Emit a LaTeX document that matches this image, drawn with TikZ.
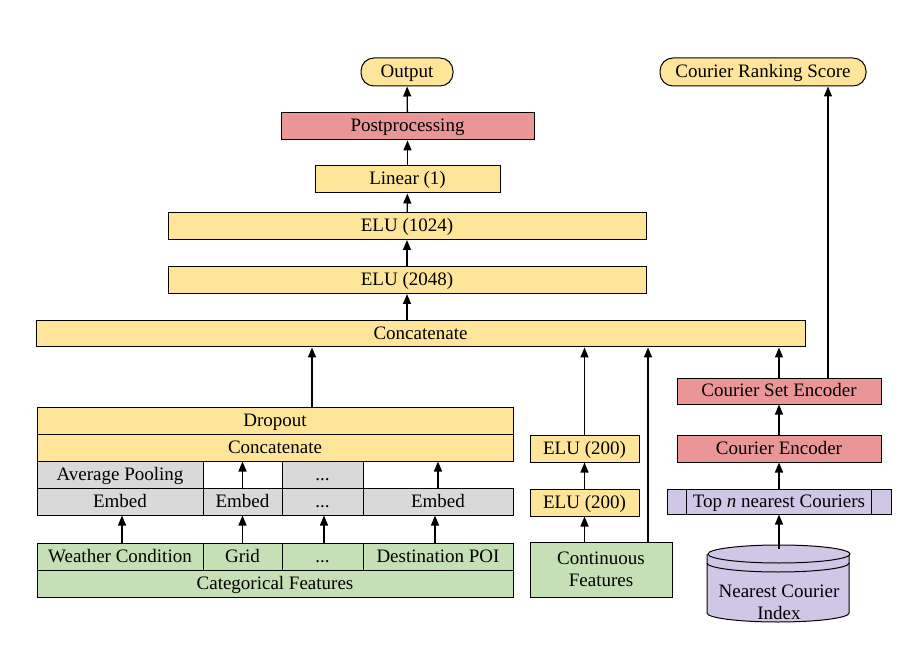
\documentclass[tikz,border=0pt]{standalone}
\usepackage{fontspec}
\setmainfont{Liberation Serif}
\usepackage{tikz}
\usetikzlibrary{arrows.meta,positioning}
\definecolor{layeryellow}{RGB}{255,229,153}
\definecolor{procpink}{RGB}{234,150,150}
\definecolor{embgray}{RGB}{217,217,217}
\definecolor{featgreen}{RGB}{197,224,180}
\definecolor{courpurple}{RGB}{208,198,230}

\begin{document}
\begin{tikzpicture}[x=1pt, y=-1pt,
    box/.style={draw, line width=1pt, inner sep=0pt, minimum height=27pt, align=center,
                text height=14pt, text depth=3pt, font=\fontsize{19}{22}\selectfont},
    twoline/.style={text height=, text depth=},
    pill/.style={box, rounded corners=13pt, minimum height=28pt},
    arrow/.style={-{Triangle[length=10pt, width=8pt]}, line width=1.3pt}
]
\useasboundingbox (0,0) rectangle (924,660);

% outputs
\node[pill, fill=layeryellow, minimum width=92pt] (out) at (407,72) {Output};
\node[pill, fill=layeryellow, minimum width=206pt] (crs) at (763,72) {Courier Ranking Score};

% main tower
\node[box, fill=procpink, minimum width=253pt] (post) at (407.5,126.5) {Postprocessing};
\node[box, fill=layeryellow, minimum width=185pt] (lin) at (407.5,179.5) {Linear (1)};
\node[box, fill=layeryellow, minimum width=478pt] (elu1024) at (407,226) {ELU (1024)};
\node[box, fill=layeryellow, minimum width=478pt] (elu2048) at (407,280) {ELU (2048)};
\node[box, fill=layeryellow, minimum width=769pt, minimum height=26pt] (cat) at (420.5,334) {Concatenate};

% categorical branch
\node[box, fill=layeryellow, minimum width=476pt] (drop) at (275,420.5) {Dropout};
\node[box, fill=layeryellow, minimum width=476pt] (catb) at (275,447.5) {Concatenate};
\node[box, fill=embgray, minimum width=166pt] (avgp) at (120,474.5) {Average Pooling};
\node[box, fill=embgray, minimum width=81pt] (dotsa) at (322.5,474.5) {...};
\node[box, fill=embgray, minimum width=166pt] (embw) at (120,501.5) {Embed};
\node[box, fill=embgray, minimum width=79pt] (embg) at (242.5,501.5) {Embed};
\node[box, fill=embgray, minimum width=81pt] (embd) at (322.5,501.5) {...};
\node[box, fill=embgray, minimum width=150pt] (embp) at (438,501.5) {Embed};
\node[box, fill=featgreen, minimum width=166pt] (wc) at (120,556.5) {Weather Condition};
\node[box, fill=featgreen, minimum width=79pt] (grid) at (242.5,556.5) {Grid};
\node[box, fill=featgreen, minimum width=81pt] (fdots) at (322.5,556.5) {...};
\node[box, fill=featgreen, minimum width=150pt] (dpoi) at (438,556.5) {Destination POI};
\node[box, fill=featgreen, minimum width=476pt] (catf) at (275,583.5) {Categorical Features};

% continuous branch
\node[box, fill=layeryellow, minimum width=109pt] (elua) at (584.5,448.5) {ELU (200)};
\node[box, fill=layeryellow, minimum width=109pt] (elub) at (584.5,502.5) {ELU (200)};
\node[box, twoline, fill=featgreen, minimum width=142pt, minimum height=55pt] (cont) at (601,569.5) {Continuous\\Features};

% courier branch
\node[box, fill=procpink, minimum width=204pt, minimum height=26pt] (cse) at (779,391) {Courier Set Encoder};
\node[box, fill=procpink, minimum width=204pt] (cenc) at (779,448.5) {Courier Encoder};
\node[box, fill=courpurple, minimum width=224pt, minimum height=25pt] (topn) at (779,501.5) {Top \textit{n} nearest Couriers};
\draw[line width=1pt] ([xshift=20pt]topn.north west) -- ([xshift=20pt]topn.south west);
\draw[line width=1pt] ([xshift=-20pt]topn.north east) -- ([xshift=-20pt]topn.south east);

\fill[courpurple] (707,554) -- (707,613) arc[start angle=180, end angle=0, x radius=71, y radius=9] -- (849,554) -- cycle;
\draw[line width=1pt] (707,554) -- (707,613) arc[start angle=180, end angle=0, x radius=71, y radius=9] -- (849,554);
\filldraw[fill=courpurple, line width=1pt] (779,554) ellipse[x radius=71, y radius=9];
\draw[line width=1pt] (707,563) arc[start angle=180, end angle=0, x radius=71, y radius=9];
\node[align=center, font=\fontsize{19}{22}\selectfont] (idx) at (779,602) {Nearest Courier\\Index};
\coordinate (idxtop) at (779,549);

% arrows
\draw[arrow] (post) -- (out);
\draw[arrow] (lin) -- (post);
\draw[arrow] (elu1024) -- (lin);
\draw[arrow] (elu2048) -- (elu1024);
\draw[arrow] (cat.north -| elu2048) -- (elu2048);
\draw[arrow] ([xshift=37pt]drop.north) -- ([xshift=37pt]drop.north |- cat.south);
\draw[arrow] (embg) -- (embg.north |- catb.south);
\draw[arrow] (embp) -- (embp.north |- catb.south);
\draw[arrow] ([xshift=2pt]wc.north) -- ([xshift=2pt]embw.south);
\draw[arrow] (grid) -- (embg);
\draw[arrow] ([xshift=1.5pt]fdots.north) -- ([xshift=1.5pt]embd.south);
\draw[arrow] ([xshift=-3pt]dpoi.north) -- ([xshift=-3pt]embp.south);
\draw[arrow] (cont.north -| elub) -- (elub);
\draw[arrow] (elub) -- (elua);
\draw[arrow] (elua) -- (elua.north |- cat.south);
\draw[arrow] ([xshift=47pt]cont.north) -- ([xshift=47pt]cont.north |- cat.south);
\draw[arrow] (cse) -- (cse.north |- cat.south);
\draw[line width=1.3pt] ([xshift=49pt]cse.north) -- ([xshift=49pt]cse.north |- cat.north);
\draw[arrow] ([xshift=49pt]cse.north |- cat.north) -- ([xshift=49pt]cse.north |- crs.south);
\draw[arrow] (cenc) -- (cse);
\draw[arrow] (topn) -- (cenc);
\draw[arrow] (idxtop) -- (topn);
\end{tikzpicture}
\end{document}
